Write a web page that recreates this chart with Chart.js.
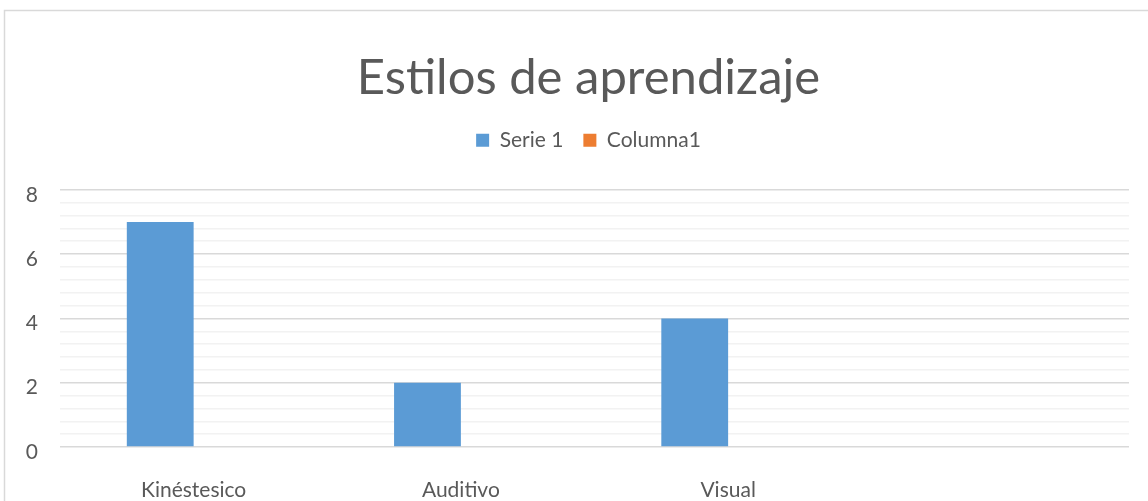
<!DOCTYPE html>
<html>
<head>
<meta charset="utf-8">
<script src="https://cdn.jsdelivr.net/npm/chart.js@4"></script>
<style>
  html, body { margin: 0; padding: 0; background: #fff; }
  #wrap { position: relative; width: 1148px; height: 501px; }
</style>
</head>
<body>
<div id="wrap"><canvas id="chart"></canvas></div>
<script>
// Data
const categories = ['Kinéstesico', 'Auditivo', 'Visual', ''];
const serie1 = [7, 2, 4, null];
const columna1 = [null, null, null, null];
const yTicks = [0, 2, 4, 6, 8];

const textColor = '#595959';
const fontFamily = 'Lato, "Open Sans", sans-serif';

// outer chart frame (cut off at right/bottom like the reference)
const framePlugin = {
    id: 'frame',
    beforeDraw(chart) {
        const ctx = chart.ctx;
        ctx.save();
        ctx.fillStyle = '#fff';
        ctx.fillRect(0, 0, chart.width, chart.height);
        ctx.strokeStyle = '#d9d9d9';
        ctx.lineWidth = 1.5;
        ctx.strokeRect(4.5, 10.5, chart.width + 20, chart.height + 20);
        ctx.restore();
    },
    // title and legend are centred on the (wider) original frame, not the canvas
    afterLayout(chart) {
        if (chart.titleBlock) chart.titleBlock.left += 48;
        if (chart.legend) chart.legend.left += 48;
    }
};

const isMajor = v => yTicks.some(t => Math.abs(t - v) < 1e-6);

const ctx = document.getElementById('chart').getContext('2d');
const chart = new Chart(ctx, {
    type: 'bar',
    data: {
        labels: categories,
        datasets: [
            { label: 'Serie 1', data: serie1, backgroundColor: '#5b9bd5', borderWidth: 0 },
            { label: 'Columna1', data: columna1, backgroundColor: '#ed7d31', borderWidth: 0 }
        ]
    },
    options: {
        responsive: true,
        maintainAspectRatio: false,
        animation: false,
        categoryPercentage: 0.5,
        barPercentage: 1,
        layout: { padding: { left: 0, right: 19, top: 0, bottom: 0 } },
        plugins: {
            tooltip: { enabled: false },
            title: {
                display: true,
                text: 'Estilos de aprendizaje',
                color: textColor,
                font: { family: fontFamily, size: 49, weight: 'normal' },
                padding: { top: 49, bottom: 2 }
            },
            legend: {
                position: 'top',
                labels: {
                    color: textColor,
                    font: { family: fontFamily, size: 21 },
                    boxWidth: 13,
                    boxHeight: 13,
                    padding: 20
                }
            }
        },
        scales: {
            x: {
                grid: { display: false },
                border: { display: false },
                ticks: {
                    color: textColor,
                    font: { family: fontFamily, size: 21 },
                    padding: 23,
                    maxRotation: 0
                },
                afterFit(scale) { scale.height = 54; }
            },
            y: {
                min: 0,
                max: 8,
                border: { display: false },
                grid: {
                    drawTicks: false,
                    lineWidth: 1.5,
                    color: ctx => isMajor(ctx.tick.value) ? '#d9d9d9' : '#f2f2f2'
                },
                ticks: {
                    stepSize: 0.4,
                    autoSkip: false,
                    color: textColor,
                    font: { family: fontFamily, size: 21 },
                    padding: 22,
                    labelOffset: 5,
                    callback: v => isMajor(v) ? Math.round(v) : ''
                },
                afterFit(scale) { scale.width = 60; }
            }
        }
    },
    plugins: [framePlugin]
});

// extra space between legend and plot area
const legendFit = chart.legend.fit;
chart.legend.fit = function () {
    legendFit.call(this);
    this.height += 29;
};
chart.update();
</script>
</body>
</html>
